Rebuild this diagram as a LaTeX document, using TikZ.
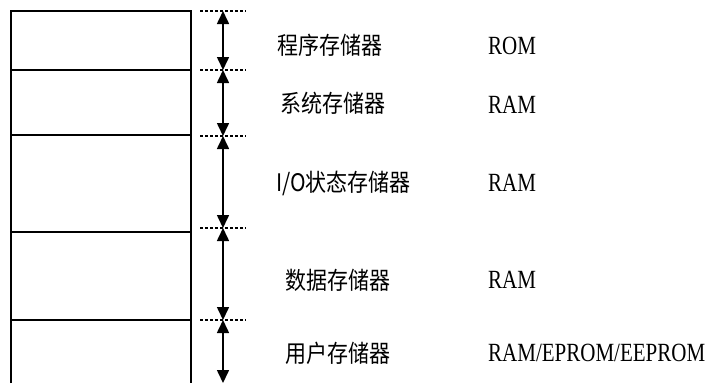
\documentclass[tikz,border=0pt]{standalone}
\usepackage{fontspec}
\setmainfont{Liberation Serif}
\newfontfamily\cjk{Noto Sans CJK SC}
\usetikzlibrary{arrows.meta}
\tikzset{
  box/.style={line width=1.5pt},
  dotline/.style={line width=1.5pt, dash pattern=on 3pt off 2pt},
  dim/.style={line width=1.6pt, {Triangle[length=13pt,width=12pt]}-{Triangle[length=13pt,width=12pt]}},
  cn/.style={anchor=west, inner sep=0pt, font=\cjk\fontsize{21}{21}\selectfont},
  en/.style={anchor=west, inner sep=0pt, font=\fontsize{21}{21}\selectfont}
}
\newcommand{\tallcn}[1]{\scalebox{1}[1.15]{#1}}
\newcommand{\tallen}[1]{\scalebox{1}[1.25]{#1}}
\begin{document}
\begin{tikzpicture}[x=1pt,y=-1pt]
\useasboundingbox (0,0) rectangle (706,383);
% memory column
\draw[box] (11,383) -- (11,11) -- (191,11) -- (191,383);
\foreach \yy in {70,135,232,320} \draw[box] (11,\yy) -- (191,\yy);
% dotted marks and arrows
\foreach \n/\yy in {0/11,1/70,2/136,3/228,4/320} {
  \coordinate (d\n) at (223,\yy);
  \draw[dotline] (200,\yy) -- (246,\yy);
}
\coordinate (d5) at (223,383);
\draw[dim] (d0) -- (d1);
\draw[dim] (d1) -- (d2);
\draw[dim] (d2) -- (d3);
\draw[dim] (d3) -- (d4);
\draw[dim] (d4) -- (d5);
% labels
\node[cn] (l1) at (277,45) {\tallcn{程序存储器}};
\node[cn] (l2) at (280,103) {\tallcn{系统存储器}};
\node[cn] (l3) at (276,183) {\tallcn{I/O状态存储器}};
\node[cn] (l4) at (285,280) {\tallcn{数据存储器}};
\node[cn] (l5) at (285,353) {\tallcn{用户存储器}};
\node[en] (t1) at (488,46) {\tallen{ROM}};
\node[en] (t2) at (488,105) {\tallen{RAM}};
\node[en] (t3) at (488,183) {\tallen{RAM}};
\node[en] (t4) at (488,280) {\tallen{RAM}};
\node[en] (t5) at (488,353) {\tallen{RAM/EPROM/EEPROM}};
\end{tikzpicture}
\end{document}
